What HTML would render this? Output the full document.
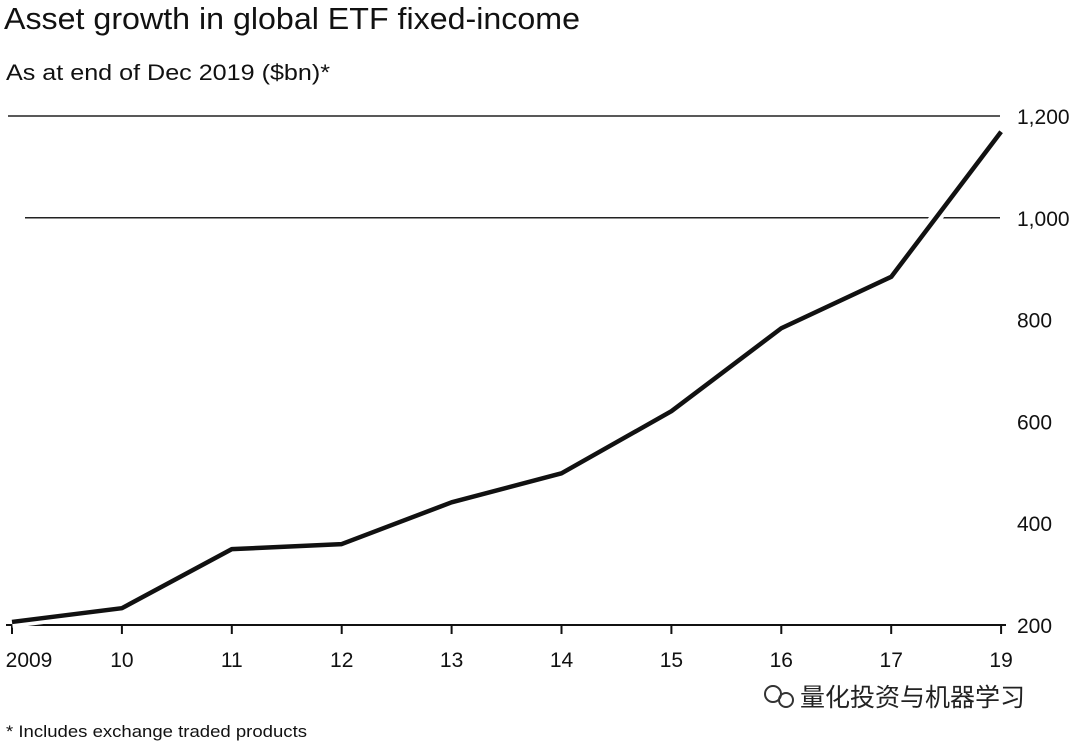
<!DOCTYPE html>
<html><head><meta charset="utf-8"><style>
body{margin:0;background:#fff;width:1080px;height:746px;overflow:hidden;font-family:"Liberation Sans","Noto Sans CJK SC",sans-serif;color:#111}
</style></head><body>
<svg width="1080" height="746" xmlns="http://www.w3.org/2000/svg">
<text x="4" y="29" font-size="31" textLength="576" lengthAdjust="spacingAndGlyphs" fill="#111">Asset growth in global ETF fixed-income</text>
<text x="6" y="80" font-size="22" textLength="324" lengthAdjust="spacingAndGlyphs" fill="#111">As at end of Dec 2019 ($bn)*</text>
<g id="grid"></g><g id="xaxis"></g><g id="series"></g>
<text x="6" y="737" font-size="17" textLength="301" lengthAdjust="spacingAndGlyphs" fill="#111">* Includes exchange traded products</text>
<g>
<circle cx="773" cy="694" r="8" fill="none" stroke="#333" stroke-width="2"/><circle cx="786" cy="700" r="7" fill="none" stroke="#333" stroke-width="2"/>
<text x="800" y="706" font-size="25" fill="#222" font-family="'Noto Sans CJK SC',sans-serif">量化投资与机器学习</text></g>
</svg>
<script>
const categories=["2009","10","11","12","13","14","15","16","17","19"];
const values=[206,233,349,359,441,498,620,783,884,1169];
const yTicks=[200,400,600,800,1000,1200];
const yTickLabels=["200","400","600","800","1,000","1,200"];
const NS="http://www.w3.org/2000/svg";
const x=i=>12+i*109.9;
const y=v=>625-(v-200)*0.509;
function mk(t,a,p){const e=document.createElementNS(NS,t);for(const k in a)e.setAttribute(k,a[k]);p.appendChild(e);return e;}
const grid=document.getElementById('grid'),xa=document.getElementById('xaxis'),se=document.getElementById('series');
yTicks.forEach((v,i)=>{
 if(v===1200){const l=mk('line',{x1:8,x2:1000,y1:y(v),y2:y(v),stroke:'#222','stroke-width':1.5},grid);
 
 }
 if(v===1000){const l=mk('line',{x1:25,x2:1000,y1:y(v),y2:y(v),stroke:'#222','stroke-width':1.5},grid);
 
 }
 const t=mk('text',{x:1017,y:y(v)+8,'font-size':21,fill:'#111'},grid);t.textContent=yTickLabels[i];
 
 
});
const base=mk('line',{x1:6,x2:1006,y1:y(200),y2:y(200),stroke:'#111','stroke-width':2},xa);


categories.forEach((c,i)=>{
 const tk=mk('line',{x1:x(i),x2:x(i),y1:y(200),y2:y(200)+9,stroke:'#111','stroke-width':2},xa);
 
 
 const t=mk('text',{x:x(i)+(i==0?17:0),y:667,'font-size':21,fill:'#111','text-anchor':'middle'},xa);t.textContent=c;
 
 
});
const pts=values.map((v,i)=>x(i)+','+y(v)).join(' ');
mk('polyline',{points:pts,fill:'none',stroke:'#fff','stroke-width':12},se);
const pl=mk('polyline',{points:pts,fill:'none',stroke:'#111','stroke-width':4.5,'stroke-linejoin':'round'},se);


</script>
</body></html>
